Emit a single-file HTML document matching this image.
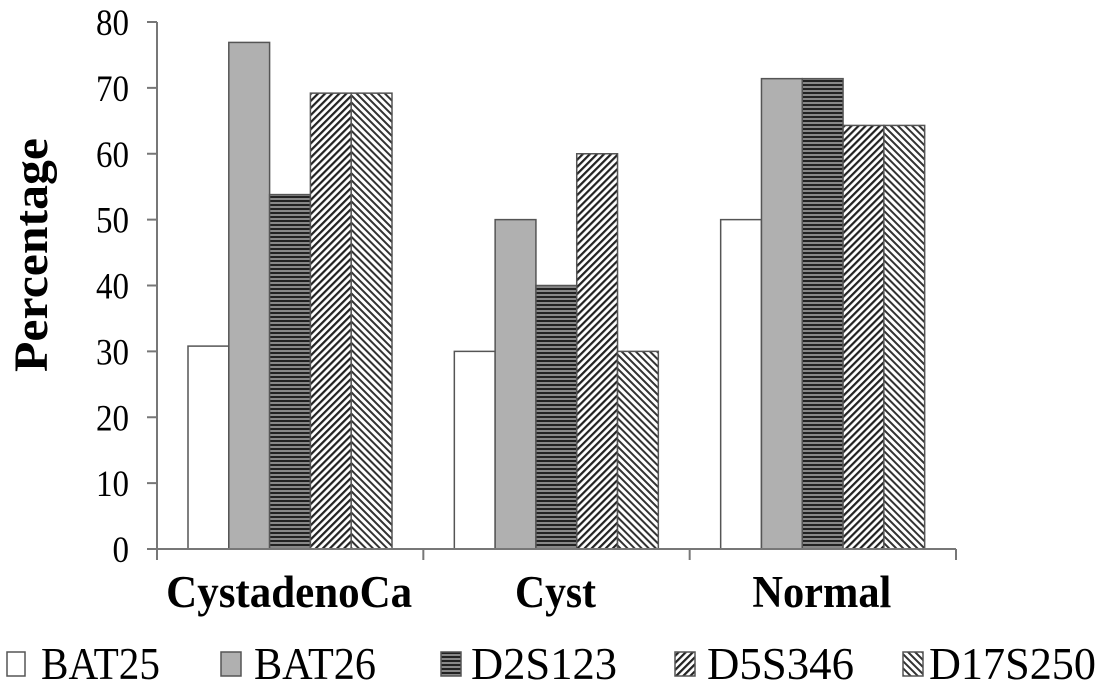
<!DOCTYPE html>
<html><head><meta charset="utf-8"><style>
html,body{margin:0;padding:0;background:#fff;}
svg{display:block;font-family:"Liberation Serif",serif;}
</style></head><body>
<svg id="chart" width="1109" height="693" viewBox="0 0 1109 693">
<defs>
<pattern id="pH" width="6" height="4" patternUnits="userSpaceOnUse"><rect width="6" height="4" fill="#888"/><rect width="6" height="2" fill="#222"/></pattern>
<pattern id="pF" width="5" height="5" patternUnits="userSpaceOnUse" patternTransform="rotate(45)"><rect width="5" height="5" fill="#fff"/><rect width="2.2" height="5" fill="#222"/></pattern>
<pattern id="pB" width="5" height="5" patternUnits="userSpaceOnUse" patternTransform="rotate(-45)"><rect width="5" height="5" fill="#fff"/><rect width="2" height="5" fill="#333"/></pattern>
</defs>
<g id="plot"></g>
</svg>
<script>
const categories = ["CystadenoCa","Cyst","Normal"];
const seriesNames = ["BAT25","BAT26","D2S123","D5S346","D17S250"];
const BAT25 = [30.8,30,50];
const BAT26 = [76.9,50,71.4];
const D2S123 = [53.8,40,71.4];
const D5S346 = [69.2,60,64.3];
const D17S250 = [69.2,30,64.3];
const yTicks = [0,10,20,30,40,50,60,70,80];
const series = [BAT25,BAT26,D2S123,D5S346,D17S250];
const fills = ["#fff","#b0b0b0","url(#pH)","url(#pF)","url(#pB)"];
const catW = [246,81,139];
const NS="http://www.w3.org/2000/svg";
const g=document.getElementById('plot');
const x0=157,x1=956,yb=549,yt=22,ymax=80;
const gw=(x1-x0)/categories.length, bw=40.8, off=31;
const y=v=>yb-(v/ymax)*(yb-yt);
function mk(t,a){const e=document.createElementNS(NS,t);for(const k in a)e.setAttribute(k,a[k]);g.appendChild(e);return e;}
categories.forEach((c,ci)=>{
  series.forEach((s,si)=>{
    const r=mk('rect',{x:x0+ci*gw+off+si*bw,y:y(s[ci]),width:bw,height:yb-y(s[ci]),fill:fills[si],stroke:'#555','stroke-width':1.5});
    
    
  });
  const t=mk('text',{x:x0+ci*gw+gw/2-1,y:607,'text-anchor':'middle','font-size':45,'font-weight':'bold',textLength:catW[ci],lengthAdjust:'spacingAndGlyphs'});
  t.textContent=c;
  
  
});
const ya=mk('line',{x1:x0,y1:yt,x2:x0,y2:yb,stroke:'#777','stroke-width':2});


const xa=mk('line',{x1:x0,y1:yb,x2:x1,y2:yb,stroke:'#777','stroke-width':2});


for(let i=0;i<=categories.length;i++){
  const tk=mk('line',{x1:x0+i*gw,y1:yb,x2:x0+i*gw,y2:yb+11,stroke:'#777','stroke-width':2});
  
  
}
yTicks.forEach(v=>{
  const tk=mk('line',{x1:x0-10,y1:y(v),x2:x0,y2:y(v),stroke:'#777','stroke-width':2});
  
  
  const lbl=String(v);
  const t=mk('text',{x:129,y:y(v)+13,'text-anchor':'end','font-size':37,textLength:lbl.length*16.5,lengthAdjust:'spacingAndGlyphs'});
  t.textContent=lbl;
  
  
});
const yt2=mk('text',{x:0,y:0,transform:'translate(47,255) rotate(-90)','text-anchor':'middle','font-size':48,'font-weight':'bold',textLength:234,lengthAdjust:'spacingAndGlyphs'});
yt2.textContent='Percentage';


const lbx=[7,221,441,675,903], ltx=[41,254,471,707,929], ltw=[119,122,146,147,167];
seriesNames.forEach((n,i)=>{
  const b=mk('rect',{x:lbx[i],y:652,width:i===0?18:20,height:24,fill:fills[i],stroke:'#555','stroke-width':1.5});
  
  
  const t=mk('text',{x:ltx[i],y:679,'font-size':45,textLength:ltw[i],lengthAdjust:'spacingAndGlyphs'});
  t.textContent=n;
  
  
});
</script>
</body></html>
